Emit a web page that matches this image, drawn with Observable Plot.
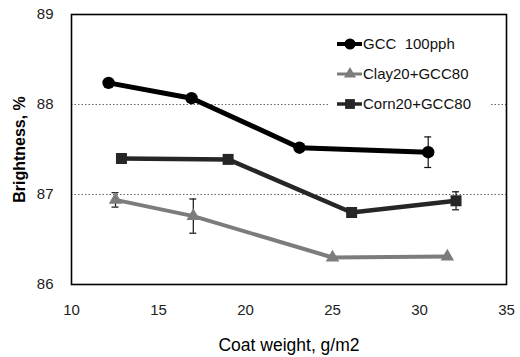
<!DOCTYPE html>
<html>
<head>
<meta charset="utf-8">
<script src="https://cdn.jsdelivr.net/npm/d3@7"></script>
<script src="https://cdn.jsdelivr.net/npm/@observablehq/plot@0.6"></script>
<style>
  html, body { margin: 0; padding: 0; background: #fff; }
  #wrap { position: relative; width: 520px; height: 357px; font-family: "Liberation Sans", Arial, sans-serif; }
  #legend { position: absolute; left: 330px; top: 32px; background: #fff; }
  #legend text { white-space: pre; }
</style>
</head>
<body>
<div id="wrap">
  <div id="chart"></div>
  <svg id="legend" width="160" height="86"></svg>
</div>
<script>
// ---- data ----
const seriesNames = ["GCC  100pph", "Clay20+GCC80", "Corn20+GCC80"];
const gccX   = [12.13, 16.9, 23.1, 30.5];
const gccY   = [88.24, 88.07, 87.52, 87.47];
const gccErr = [0, 0, 0, 0.17];
const clayX   = [12.53, 17.0, 25.0, 31.6];
const clayY   = [86.94, 86.76, 86.30, 86.31];
const clayErr = [0.08, 0.19, 0, 0];
const cornX   = [12.87, 19.0, 26.1, 32.1];
const cornY   = [87.40, 87.39, 86.80, 86.93];
const cornErr = [0, 0.03, 0, 0.1];
const xTicks = [10, 15, 20, 25, 30, 35];
const yTicks = [86, 87, 88, 89];
const gridValues = [87, 88];
const xLabel = "Coat weight, g/m2";
const yLabel = "Brightness, %";

// styles
const styles = {
  "GCC  100pph":   {color: "#000000", width: 5,   symbol: "circle",   r: 6.2},
  "Clay20+GCC80":  {color: "#7c7c7c", width: 4,   symbol: "triangle", r: 5},
  "Corn20+GCC80":  {color: "#262626", width: 4.5, symbol: "square",   r: 6.2}
};

function build(name, xs, ys, errs) {
  return xs.map((x, i) => ({series: name, x, y: ys[i], err: errs[i]}));
}
const data = [
  ...build(seriesNames[0], gccX, gccY, gccErr),
  ...build(seriesNames[1], clayX, clayY, clayErr),
  ...build(seriesNames[2], cornX, cornY, cornErr)
];
const errData = data.filter(d => d.err > 0);

const marks = [
  Plot.gridY(gridValues, {stroke: "#555", strokeOpacity: 1, strokeWidth: 0.9, strokeDasharray: "1.5,2"}),
  Plot.axisX(xTicks, {tickSize: 0, tickPadding: 20, tickFormat: d => String(d), fontSize: 15, label: null, fill: "#222"}),
  Plot.axisY(yTicks, {tickSize: 0, tickPadding: 18, tickFormat: d => String(d), fontSize: 15, label: null, fill: "#222"}),
  Plot.axisX([], {label: xLabel, labelAnchor: "center", labelArrow: "none", labelOffset: 66, fontSize: 17.5, fill: "#000"}),
  Plot.axisY([], {label: yLabel, labelAnchor: "center", labelArrow: "none", labelOffset: 58, fontSize: 16, fontWeight: "bold", fill: "#000"})
];
for (const name of seriesNames) {
  const s = styles[name];
  const rows = data.filter(d => d.series === name);
  marks.push(Plot.line(rows, {x: "x", y: "y", stroke: s.color, strokeWidth: s.width}));
}
marks.push(Plot.ruleX(errData, {x: "x", y1: d => d.y - d.err, y2: d => d.y + d.err, stroke: "#111", strokeWidth: 1.2}));
marks.push(Plot.ruleY(errData, {y: d => d.y + d.err, x1: d => d.x - 0.2, x2: d => d.x + 0.2, stroke: "#111", strokeWidth: 1.2}));
marks.push(Plot.ruleY(errData, {y: d => d.y - d.err, x1: d => d.x - 0.2, x2: d => d.x + 0.2, stroke: "#111", strokeWidth: 1.2}));
for (const name of seriesNames) {
  const s = styles[name];
  const rows = data.filter(d => d.series === name);
  marks.push(Plot.dot(rows, {x: "x", y: "y", symbol: () => s.symbol, r: s.r, fill: s.color, stroke: "none"}));
}
marks.push(Plot.frame({stroke: "#000", strokeWidth: 1.6}));

const chart = Plot.plot({
  width: 520,
  height: 357,
  marginLeft: 71,
  marginRight: 14,
  marginTop: 14,
  marginBottom: 73,
  style: {fontFamily: "Liberation Sans, Arial, sans-serif", fontSize: "15px", color: "#222", background: "#fff"},
  symbol: {type: "identity"},
  x: {domain: [10, 35]},
  y: {domain: [86, 89]},
  marks
});
document.getElementById("chart").appendChild(chart);

// ---- legend ----
const leg = d3.select("#legend");
seriesNames.forEach((name, i) => {
  const s = styles[name];
  const cy = 12 + i * 30;
  const g = leg.append("g").attr("transform", `translate(0,${cy})`);
  g.append("line").attr("x1", 7).attr("x2", 32).attr("y1", 0).attr("y2", 0)
    .attr("stroke", s.color).attr("stroke-width", s.width - 1);
  g.append("path").attr("transform", "translate(20,0)")
    .attr("d", d3.symbol(s.symbol === "circle" ? d3.symbolCircle : s.symbol === "square" ? d3.symbolSquare : d3.symbolTriangle, Math.PI * s.r * s.r * 0.8)())
    .attr("fill", s.color);
  g.append("text").attr("x", 33).attr("y", 0).attr("dy", "0.36em")
    .attr("font-size", "15px").attr("fill", "#111")
    .attr("font-family", "Liberation Sans, Arial, sans-serif")
    .attr("xml:space", "preserve")
    .text(name);
});
</script>
</body>
</html>
